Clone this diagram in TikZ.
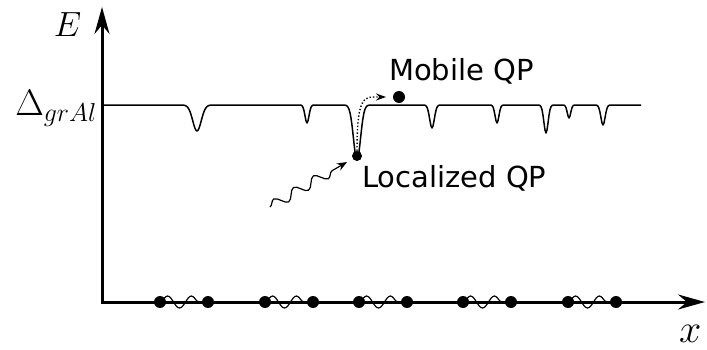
\RequirePackage{fix-cm}
\documentclass[tikz,border=0pt]{standalone}
\usepackage{fontspec}
\newfontfamily\dejavu{DejaVu Sans}
\usetikzlibrary{arrows.meta,decorations.pathmorphing}
\begin{document}
\begin{tikzpicture}[x=1pt,y=-1pt,
  axis/.style={line width=3pt, line join=miter},
  level/.style={line width=1.5pt, line join=round},
  dot/.style={circle, fill=black, inner sep=0pt, minimum size=12pt},
  smalldot/.style={circle, fill=black, inner sep=0pt, minimum size=10pt},
  lbl/.style={font=\dejavu\fontsize{29}{34}\selectfont, inner sep=0pt, anchor=base west},
  wave/.style={decorate, decoration={snake, amplitude=6pt, segment length=24pt}, line width=1.2pt},
  bigtip/.tip={Stealth[length=27pt,width=15pt,inset=9pt]},
  smalltip/.tip={Stealth[length=10pt,width=7pt]},
  declare function={dip(\xa,\ca,\sa)=exp(-(min(abs(\xa-\ca)/\sa,4))*(min(abs(\xa-\ca)/\sa,4)));},
]
\useasboundingbox (0,0) rectangle (707,350);
% axes
\coordinate (origin) at (102,302);
\coordinate (ytop) at (102,7);
\coordinate (xend) at (705,302);
\draw[axis, {bigtip}-{bigtip}] (ytop) -- (origin) -- (xend);
% labels
\node[anchor=base, inner sep=0pt, font=\fontsize{35}{40}\selectfont] (elabel) at (67.5,36.5) {$E$};
\node[anchor=base east, inner sep=0pt, font=\fontsize{37}{43}\selectfont] (dlabel) at (97,116) {$\Delta_{grAl}$};
\node[anchor=base west, inner sep=0pt, font=\fontsize{40}{46}\selectfont] (xlabel) at (679,342) {$x$};
% energy level with dips
\draw[level] plot[domain=103:641, samples=539] (\x,{105 + 26*dip(\x,197,6) + 18*dip(\x,307,2.8) + 55*dip(\x,357,5) + 23*dip(\x,432,3.3) + 18*dip(\x,497,2.7) + 28*dip(\x,546,3) + 13*dip(\x,569,2.4) + 20*dip(\x,603,3)});
% quasiparticles
\node[smalldot] (loc) at (357,156) {};
\node[dot] (mob) at (399,97) {};
\coordinate (mobtip) at (386,97);
\draw[dotted, line width=1.4pt, -{smalltip}] (loc.north) .. controls (357,93) and (365,97) .. (mobtip);
\node[lbl] (moblabel) at (389,81) {Mobile QP};
\node[lbl] (loclabel) at (362,187) {Localized QP};
% photon
\coordinate (ph) at (270,207);
\coordinate (phtip) at (347,162);
\draw[decorate, decoration={snake, amplitude=5pt, segment length=23pt, post length=10pt}, line width=1.2pt, -{Stealth[length=10pt,width=8pt]}] (ph) -- (phtip);
% grains on the x axis
\foreach \d [count=\i] in {160,265,359,463,568} {
  \node[dot] (a\i) at (\d,302) {};
  \node[dot] (b\i) at (\d+48,302) {};
  \draw[wave] (a\i.center) -- (b\i.center);
}
\end{tikzpicture}
\end{document}
